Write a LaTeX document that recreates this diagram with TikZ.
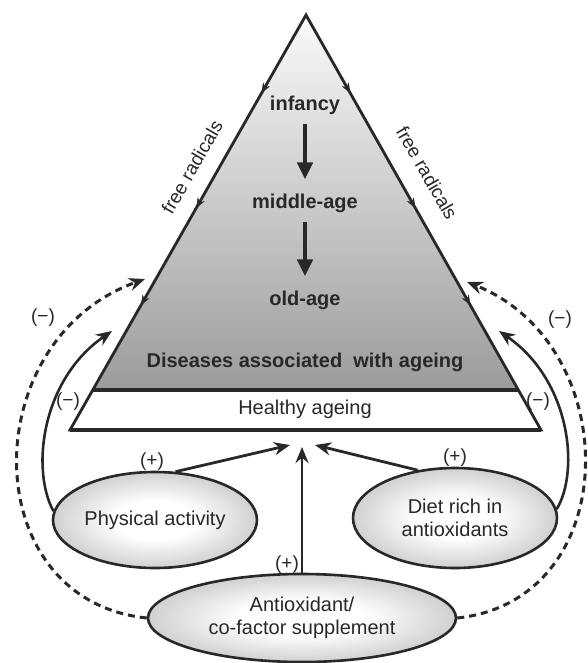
\documentclass[tikz,border=0pt]{standalone}
\usepackage{fontspec}
\setmainfont{Liberation Sans}
\usetikzlibrary{arrows.meta, shapes.geometric, decorations.markings}
\definecolor{agedark}{RGB}{40,40,40}
\pgfdeclareradialshading{bubbleshade}{\pgfpoint{0bp}{0bp}}{color(0bp)=(white); color(10bp)=(white); color(50bp)=(gray!98)}

\begin{document}
\begin{tikzpicture}[x=1pt, y=-1pt]
    \tikzstyle{stagetext} = [text=agedark, inner sep=2pt, font=\fontsize{20}{24}\selectfont\bfseries]
    \tikzstyle{plaintext} = [text=agedark, inner sep=2pt, font=\fontsize{20}{24}\selectfont]
    \tikzstyle{signtext} = [text=agedark, inner sep=1pt, font=\fontsize{19}{22}\selectfont]
    \tikzstyle{bubble} = [ellipse, draw=agedark, line width=2.6pt, shading=bubbleshade,
        text=agedark, align=center, inner sep=0pt, font=\fontsize{20}{23}\selectfont]
    \tikzstyle{pyramidline} = [draw=agedark, line width=2.8pt, line join=miter]
    \tikzstyle{radicalflow} = [color=agedark, postaction={decorate}, decoration={markings,
        mark=at position 0.188 with {\arrow{Stealth[length=10pt,width=8pt]}},
        mark=at position 0.465 with {\arrow{Stealth[length=10pt,width=8pt]}},
        mark=at position 0.699 with {\arrow{Stealth[length=10pt,width=8pt]}}}]
    \tikzstyle{agearrow} = [draw=agedark, line width=4.4pt, -{Stealth[length=17pt,width=15pt,inset=0pt]}]
    \tikzstyle{pusharrow} = [draw=agedark, line width=2.8pt, -{Stealth[length=16pt,width=13pt]}]
    \tikzstyle{curvearrow} = [draw=agedark, line width=2.6pt, -{Stealth[length=16pt,width=13pt]}]
    \tikzstyle{dasharrow} = [draw=agedark, line width=3pt, dash pattern=on 7pt off 5pt,
        -{Stealth[length=16pt,width=13pt]}]

    \fill[white] (0,0) rectangle (587,663);
    \useasboundingbox (0,0) rectangle (587,663);

    % pyramid
    \coordinate (apex) at (306,15);
    \coordinate (bandL) at (93,390);
    \coordinate (bandR) at (518,390);
    \coordinate (baseL) at (70,430);
    \coordinate (baseR) at (541,430);
    \shade[top color=gray!4, bottom color=gray!78] (apex) -- (bandL) -- (bandR) -- cycle;
    \draw[pyramidline] (apex) -- (baseL) -- (baseR) -- cycle;
    \draw[pyramidline, line width=3.6pt] (bandL) -- (bandR);
    \draw[pyramidline, line width=3.6pt] (baseL) -- (baseR);
    \path[radicalflow] (apex) -- (baseL);
    \path[radicalflow] (apex) -- (baseR);

    \node[stagetext] (infancy) at (305,105) {infancy};
    \node[stagetext] (middle) at (305,203) {middle-age};
    \node[stagetext] (old) at (305,300) {old-age};
    \node[stagetext] (diseases) at (305,362) {Diseases associated~ with ageing};
    \node[plaintext] (healthy) at (305,409) {Healthy ageing};
    \draw[agearrow, shorten <=7pt, shorten >=12pt] (infancy) -- (middle);
    \draw[agearrow, shorten <=7pt, shorten >=12pt] (middle) -- (old);

    \node[signtext, rotate=60] (radL) at (192,167) {free radicals};
    \node[signtext, rotate=-60] (radR) at (427,173) {free radicals};

    % interventions
    \node[bubble, minimum width=204pt, minimum height=96pt] (phys) at (155,520) {Physical activity};
    \node[bubble, minimum width=204pt, minimum height=100pt] (diet) at (455,518) {Diet rich in\\antioxidants};
    \node[bubble, minimum width=308pt, minimum height=88pt] (supp) at (302,618) {Antioxidant/\\co-factor supplement};

    \coordinate (meet) at (302,447);
    \draw[pusharrow] (phys.67) -- ([xshift=-12pt, yshift=2pt]meet);
    \draw[pusharrow] (diet.128) -- ([xshift=13pt, yshift=2pt]meet);
    \draw[pusharrow] (supp.north) -- (meet);
    \node[signtext] (plusA) at (152,462) {(+)};
    \node[signtext] (plusB) at (455,458) {(+)};
    \node[signtext] (plusC) at (287,565) {(+)};

    \coordinate (tipL) at (112,331);
    \coordinate (tipR) at (499,331);
    \draw[curvearrow] (phys.175) .. controls (31,470) and (41,380) .. (tipL);
    \draw[curvearrow] (diet.5) .. controls (580,470) and (570,380) .. (tipR);
    \node[signtext] (minusB) at (68,402) {(−)};
    \node[signtext] (minusD) at (538,402) {(−)};

    \coordinate (dashL) at (145,279);
    \coordinate (dashR) at (467,282);
    \draw[dasharrow] (supp.west) .. controls (-25,600) and (-25,340) .. (dashL);
    \draw[dasharrow] (supp.east) .. controls (625,600) and (625,345) .. (dashR);
    \node[signtext] (minusA) at (43,318) {(−)};
    \node[signtext] (minusC) at (560,320) {(−)};
\end{tikzpicture}
\end{document}
